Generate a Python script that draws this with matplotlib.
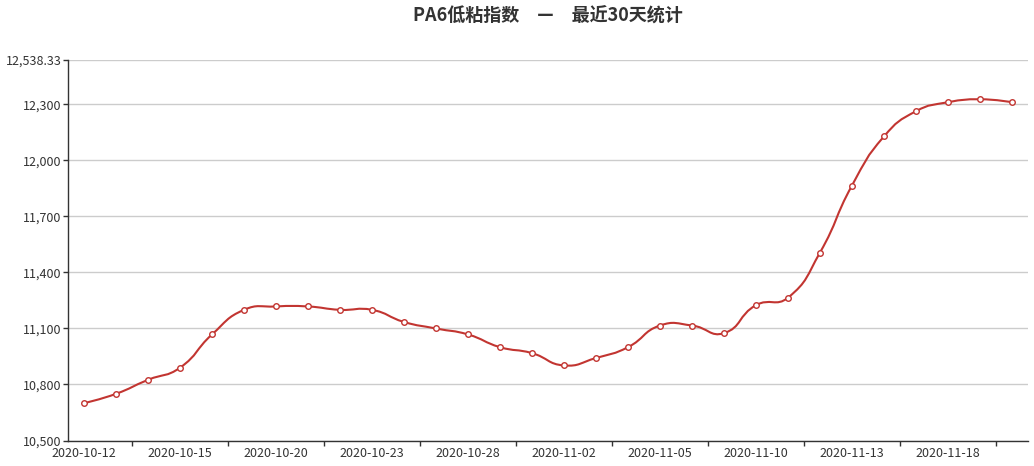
import numpy as np
import matplotlib.pyplot as plt
from matplotlib.path import Path
from matplotlib.patches import PathPatch

plt.rcParams['font.family'] = ['Noto Sans CJK SC', 'DejaVu Sans']

# data
dates = ['2020-10-12', '2020-10-13', '2020-10-14', '2020-10-15', '2020-10-16',
         '2020-10-19', '2020-10-20', '2020-10-21', '2020-10-22', '2020-10-23',
         '2020-10-26', '2020-10-27', '2020-10-28', '2020-10-29', '2020-10-30',
         '2020-11-02', '2020-11-03', '2020-11-04', '2020-11-05', '2020-11-06',
         '2020-11-09', '2020-11-10', '2020-11-11', '2020-11-12', '2020-11-13',
         '2020-11-16', '2020-11-17', '2020-11-18', '2020-11-19', '2020-11-20']
prices = [10700, 10750, 10825, 10890, 11068, 11200, 11218, 11218, 11200, 11200,
          11135, 11100, 11068, 11000, 10968, 10902, 10942, 11000, 11116, 11116,
          11075, 11225, 11265, 11507, 11866, 12129, 12264, 12312, 12328, 12312]
y_ticks = [10500, 10800, 11100, 11400, 11700, 12000, 12300, 12538.33]
title = 'PA6低粘指数　—　最近30天统计'

RED = '#c23531'
AXIS = '#333333'


def smooth_path(pts, smooth=0.5):
    # bezier smoothing in pixel space, control points kept inside the bbox
    lo, hi = pts.min(axis=0), pts.max(axis=0)
    verts, codes = [pts[0]], [Path.MOVETO]
    cp0 = pts[0].copy()
    n = len(pts)
    for i in range(1, n):
        p = pts[i]
        if i == n - 1:
            cp1, v, r = p.copy(), np.zeros(2), 0.5
        else:
            prev, nxt = pts[i - 1], pts[i + 1]
            v = nxt - prev
            d0 = np.hypot(*(p - prev))
            d1 = np.hypot(*(p - nxt))
            r = d1 / (d0 + d1)
            cp1 = p - smooth * (1 - r) * v
        verts += [np.clip(cp0, lo, hi), np.clip(cp1, lo, hi), p]
        codes += [Path.CURVE4] * 3
        cp0 = p + smooth * r * v
    return np.array(verts), codes


W, H = 1034, 466
fig = plt.figure(figsize=(W / 100, H / 100), dpi=100)
ax = fig.add_axes([68 / W, (H - 440.5) / H, (1028 - 68) / W, (440.5 - 60) / H])

x = np.arange(len(dates))
ax.set_xlim(-0.5, len(dates) - 0.5)
ax.set_ylim(y_ticks[0], y_ticks[-1])

# smooth line
pix = ax.transData.transform(np.column_stack([x, prices]))
verts, codes = smooth_path(pix)
verts = ax.transData.inverted().transform(verts)
ax.add_patch(PathPatch(Path(verts, codes), fill=False, edgecolor=RED,
                       linewidth=1.5, zorder=3, capstyle='round', joinstyle='round'))
ax.plot(x, prices, linestyle='none', marker='o', markersize=4.0,
        markerfacecolor='white', markeredgecolor=RED, markeredgewidth=1.0, zorder=4)

# axes styling
for s in ['top', 'right']:
    ax.spines[s].set_visible(False)
for s in ['left', 'bottom']:
    ax.spines[s].set_color(AXIS)
    ax.spines[s].set_linewidth(1)

ax.set_yticks(y_ticks)
ax.set_yticklabels([f'{v:,}' for v in y_ticks])
ax.yaxis.grid(True, color='#cccccc', linewidth=1)
ax.set_axisbelow(True)
ax.tick_params(axis='y', length=3.6, width=1, color=AXIS, pad=1.2,
               labelsize=9, labelcolor=AXIS)

lab_idx = x[::3]
ax.set_xticks(lab_idx)
ax.set_xticklabels([dates[i] for i in lab_idx])
ax.set_xticks(np.arange(1.5, len(dates) - 1, 3), minor=True)
ax.tick_params(axis='x', which='major', length=0, pad=5.0,
               labelsize=9, labelcolor=AXIS)
ax.tick_params(axis='x', which='minor', length=3.6, width=1, color=AXIS)

fig.text((68 + 1028) / 2 / W, 1 - 16 / H, title, ha='center', va='center',
         fontsize=13, fontweight='bold', color=AXIS)

fig.savefig('out.png', dpi=100)
